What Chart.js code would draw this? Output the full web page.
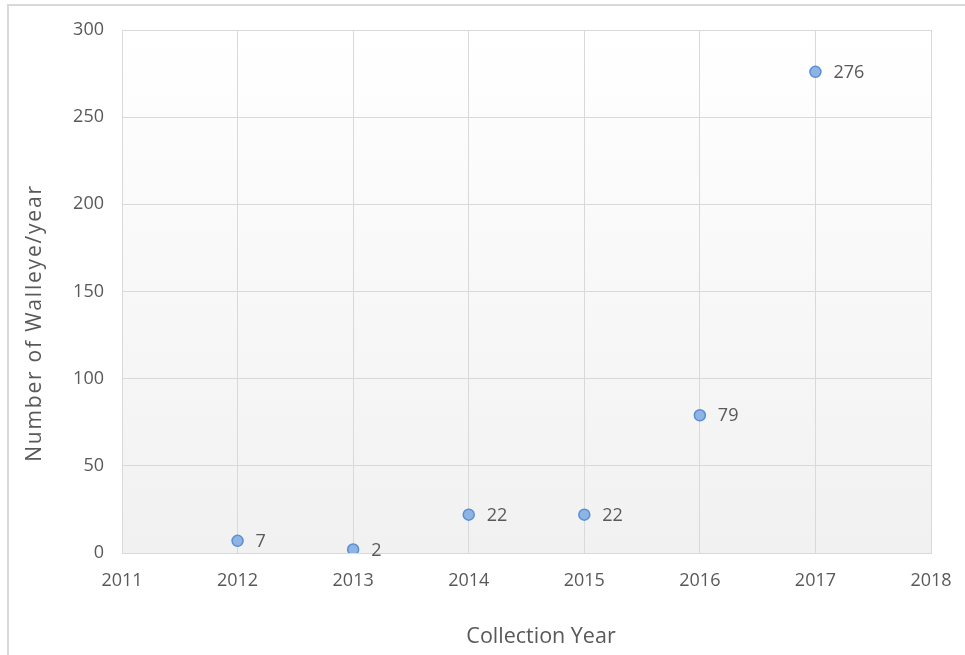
<!DOCTYPE html>
<html>
<head>
<meta charset="utf-8">
<script src="https://cdn.jsdelivr.net/npm/chart.js@4/dist/chart.umd.min.js"></script>
<style>
html,body{margin:0;padding:0;background:#fff;}
#wrap{width:965px;height:655px;position:relative;}
</style>
</head>
<body>
<div id="wrap"><canvas id="c" width="965" height="655"></canvas></div>
<script>
const years = [2012, 2013, 2014, 2015, 2016, 2017];
const walleye = [7, 2, 22, 22, 79, 276];
const xRange = [2011, 2018];
const yRange = [0, 300];
const yStep = 50;
const xTitle = 'Collection Year';
const yTitle = 'Number of Walleye/year';

const FONT = "'Open Sans', sans-serif";
const TXT = '#595959';
const GRID = '#d9d9d9';

const bgPlugin = {
  id: 'bg',
  beforeDraw(chart) {
    const {ctx, chartArea: a} = chart;
    ctx.save();
    ctx.strokeStyle = '#d9d9d9';
    ctx.lineWidth = 2;
    ctx.strokeRect(8, 5, chart.width + 20, chart.height + 20);
    const g = ctx.createLinearGradient(0, a.top, 0, a.bottom);
    g.addColorStop(0, '#ffffff');
    g.addColorStop(1, '#f1f1f1');
    ctx.fillStyle = g;
    ctx.fillRect(a.left, a.top, a.right - a.left, a.bottom - a.top);
    ctx.restore();
  }
};

const labelPlugin = {
  id: 'lbl',
  afterDatasetsDraw(chart) {
    const {ctx} = chart;
    const meta = chart.getDatasetMeta(0);
    ctx.save();
    ctx.font = "18px " + FONT;
    ctx.fillStyle = TXT;
    ctx.textAlign = 'left';
    ctx.textBaseline = 'middle';
    meta.data.forEach((p, i) => {
      ctx.fillText(String(walleye[i]), p.x + 18, p.y + 1);
    });
    ctx.restore();
  },
  afterDraw(chart) {
    const {ctx} = chart;
    // x axis title
    ctx.save();
    ctx.font = "21.5px " + FONT;
    ctx.fillStyle = TXT;
    ctx.textAlign = 'center';
    ctx.textBaseline = 'alphabetic';
    ctx.fillText(xTitle, 541, 643);
    ctx.restore();
    // y axis title
    ctx.save();
    ctx.translate(41, 323);
    ctx.rotate(-Math.PI / 2);
    ctx.font = "21px " + FONT;
    const hasLS = 'letterSpacing' in ctx;
    if (hasLS) ctx.letterSpacing = '1.8px';
    ctx.fillStyle = TXT;
    ctx.textAlign = 'center';
    ctx.textBaseline = 'alphabetic';
    ctx.fillText(yTitle, 0, 0);
    if (hasLS) ctx.letterSpacing = '0px';
    ctx.restore();
  }
};

new Chart(document.getElementById('c'), {
  type: 'scatter',
  data: {
    datasets: [{
      data: years.map((y, i) => ({x: y, y: walleye[i]})),
      backgroundColor: '#8eb4e3',
      borderColor: '#5b8fd3',
      borderWidth: 1.5,
      pointRadius: 5.5,
      pointHoverRadius: 5.5
    }]
  },
  options: {
    responsive: false,
    animation: false,
    layout: {padding: {left: 26, top: 30, right: 34, bottom: 7}},
    plugins: {legend: {display: false}, tooltip: {enabled: false}},
    scales: {
      x: {
        type: 'linear',
        min: xRange[0], max: xRange[1],
        afterFit(s) { s.height = 95; s.paddingRight = 0; s.paddingLeft = 0; },
        ticks: {stepSize: 1, padding: 17, color: TXT, font: {family: FONT, size: 18},
          callback: v => String(v)},
        grid: {color: GRID, lineWidth: 1, drawTicks: false},
        border: {display: true, color: GRID, width: 1},
        title: {display: false, text: xTitle}
      },
      y: {
        min: yRange[0], max: yRange[1],
        afterFit(s) { s.width = 96; },
        ticks: {stepSize: yStep, padding: 18, color: TXT, font: {family: FONT, size: 18}},
        grid: {color: GRID, lineWidth: 1, drawTicks: false},
        border: {display: true, color: GRID, width: 1},
        title: {display: false, text: yTitle}
      }
    }
  },
  plugins: [bgPlugin, labelPlugin]
});
</script>
</body>
</html>
